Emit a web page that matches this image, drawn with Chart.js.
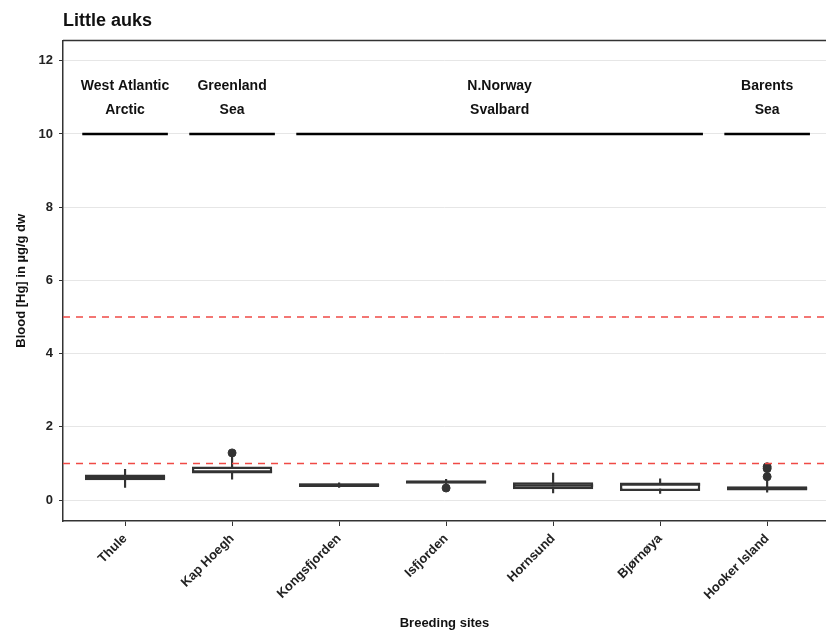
<!DOCTYPE html>
<html>
<head>
<meta charset="utf-8">
<script src="https://cdn.jsdelivr.net/npm/chart.js@4.4.0/dist/chart.umd.min.js"></script>
<style>
  body { margin: 0; background: #fff; }
  #wrap { width: 826px; height: 637px; }
</style>
</head>
<body>
<div id="wrap"><canvas id="myChart"></canvas></div>
<script>
// boxplot summaries per breeding site
const sites = ['Thule', 'Kap Hoegh', 'Kongsfjorden', 'Isfjorden', 'Hornsund', 'Bjørnøya', 'Hooker Island']
const whiskerLow = [0.35, 0.57, 0.35, 0.43, 0.20, 0.18, 0.22]
const q1 = [0.54, 0.73, 0.36, 0.45, 0.30, 0.25, 0.26]
const medians = [0.62, 0.78, 0.41, 0.50, 0.40, 0.43, 0.32]
const q3 = [0.70, 0.92, 0.46, 0.53, 0.49, 0.48, 0.38]
const whiskerHigh = [0.84, 1.18, 0.47, 0.57, 0.74, 0.58, 0.55]
const outlierSite = [1, 3, 6, 6, 6]
const outlierValue = [1.29, 0.33, 0.64, 0.86, 0.91]

const groupNames = [['West Atlantic', 'Arctic'], ['Greenland', 'Sea'], ['N.Norway', 'Svalbard'], ['Barents', 'Sea']]
const groupFirst = [0, 1, 2, 6]
const groupLast = [0, 1, 5, 6]
const thresholds = [5, 1]
const yTicks = [0, 2, 4, 6, 8, 10, 12]

const X_MIN = -0.58
const X_MAX = 6.55
const FONT = '"Liberation Sans", Arial, sans-serif'
Chart.defaults.font.family = FONT
Chart.defaults.color = '#222'

// region bars at y = 10, one segment per group, null in between
const groupLine = []
groupFirst.forEach((g, i) => {
  groupLine.push({ x: g - 0.4, y: 10 }, { x: groupLast[i] + 0.4, y: 10 }, { x: groupLast[i] + 0.5, y: null })
})

const groupLabels = {
  id: 'groupLabels',
  afterDatasetsDraw(chart) {
    const { ctx, chartArea, scales: { x, y } } = chart
    ctx.save()
    ctx.strokeStyle = '#333'
    ctx.lineWidth = 1.5
    ctx.beginPath()
    ctx.moveTo(chartArea.left, chartArea.top)
    ctx.lineTo(chartArea.right, chartArea.top)
    ctx.stroke()
    ctx.font = 'bold 14px ' + FONT
    ctx.fillStyle = '#111'
    ctx.textAlign = 'center'
    ctx.textBaseline = 'middle'
    groupNames.forEach((lines, i) => {
      const cx = x.getPixelForValue((groupFirst[i] + groupLast[i]) / 2)
      ctx.fillText(lines[0], cx, y.getPixelForValue(11.3))
      ctx.fillText(lines[1], cx, y.getPixelForValue(10.64))
    })
    ctx.restore()
  }
}

const ctx = document.getElementById('myChart')

new Chart(ctx, {
  type: 'bar',
  data: {
    datasets: [
      {
        type: 'line',
        data: thresholds.flatMap(t => [{ x: X_MIN, y: t }, { x: X_MAX + 0.1, y: t }, { x: X_MAX + 0.2, y: null }]),
        borderColor: '#f04a45',
        borderWidth: 1.6,
        borderDash: [7, 6],
        pointRadius: 0,
        spanGaps: false,
        order: 1
      },
      {
        type: 'line',
        data: outlierSite.map((s, i) => ({ x: s, y: outlierValue[i] })),
        showLine: false,
        pointRadius: 4,
        pointBackgroundColor: '#333',
        pointBorderColor: '#333',
        order: 2
      },
      {
        type: 'line',
        data: medians.map((m, i) => ({ x: i, y: m })),
        showLine: false,
        pointStyle: 'line',
        pointRadius: 40,
        pointBorderWidth: 2.5,
        pointBorderColor: '#333',
        order: 3
      },
      {
        data: q1.map((v, i) => ({ x: i, y: [v, q3[i]] })),
        backgroundColor: '#fff',
        borderColor: '#333',
        borderWidth: 2.5,
        borderSkipped: false,
        barPercentage: 0.75,
        categoryPercentage: 1,
        grouped: false,
        order: 4
      },
      {
        data: whiskerLow.map((v, i) => ({ x: i, y: [v, whiskerHigh[i]] })),
        backgroundColor: '#333',
        borderWidth: 0,
        barThickness: 1.5,
        grouped: false,
        order: 5
      },
      {
        type: 'line',
        data: groupLine,
        borderColor: '#000',
        borderWidth: 2.5,
        pointRadius: 0,
        spanGaps: false,
        order: 6
      }
    ]
  },
  options: {
    responsive: true,
    maintainAspectRatio: false,
    animation: false,
    events: [],
    layout: { autoPadding: false, padding: { top: 2, left: 0, right: 0, bottom: 0 } },
    plugins: {
      legend: { display: false },
      tooltip: { enabled: false },
      title: {
        display: true,
        text: 'Little auks',
        align: 'start',
        fullSize: false,
        color: '#111',
        font: { size: 18, weight: 'bold' },
        padding: { top: 8, bottom: 9 }
      }
    },
    scales: {
      x: {
        type: 'linear',
        min: X_MIN,
        max: X_MAX,
        offset: false,
        grid: { offset: false, drawOnChartArea: false, tickColor: '#333', tickLength: 5 },
        border: { color: '#333', width: 1.5 },
        afterBuildTicks: axis => { axis.ticks = sites.map((s, i) => ({ value: i })) },
        afterFit: axis => {
          axis.height = 116
          axis.paddingLeft = 0
          axis.paddingRight = 0
        },
        ticks: {
          autoSkip: false,
          minRotation: 45,
          maxRotation: 45,
          padding: 5,
          color: '#222',
          font: { size: 13, weight: 'bold' },
          callback: v => sites[Math.round(v)]
        },
        title: {
          display: true,
          text: 'Breeding sites',
          color: '#111',
          font: { size: 13, weight: 'bold' },
          padding: { top: 0, bottom: 6 }
        }
      },
      y: {
        min: -0.57,
        max: 12.55,
        grid: { color: '#e6e6e6', lineWidth: 1, tickColor: '#333', tickLength: 4 },
        border: { color: '#333', width: 1.5 },
        afterBuildTicks: axis => { axis.ticks = yTicks.map(v => ({ value: v })) },
        afterFit: axis => { axis.width = 63 },
        ticks: {
          padding: 6,
          color: '#222',
          font: { size: 13, weight: 'bold' }
        },
        title: {
          display: true,
          text: 'Blood [Hg] in µg/g dw',
          color: '#111',
          font: { size: 13, weight: 'bold' },
          padding: { top: 14, bottom: 4 }
        }
      }
    }
  },
  plugins: [groupLabels]
})
</script>
</body>
</html>
